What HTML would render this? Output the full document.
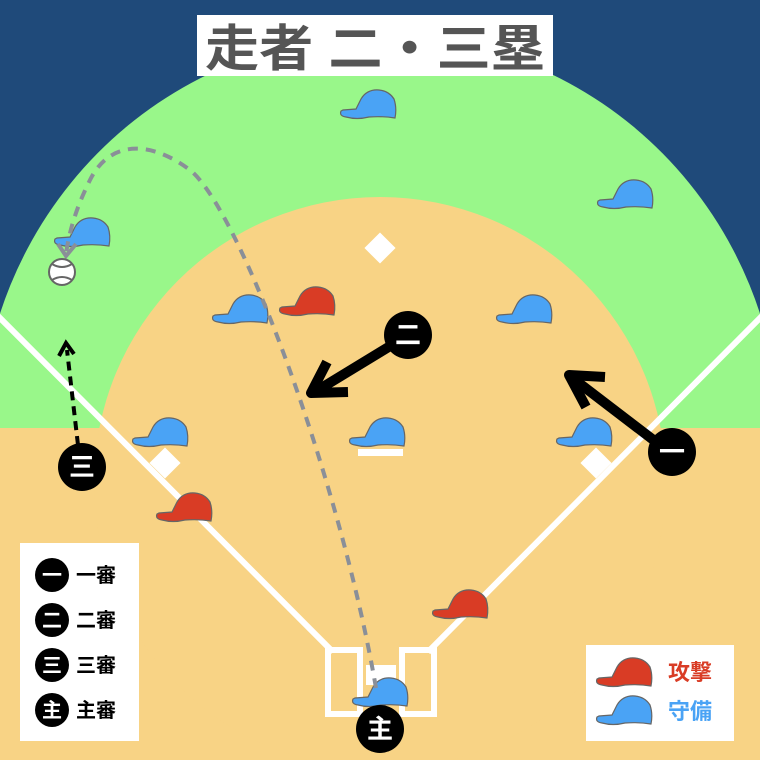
<!DOCTYPE html>
<html><head><meta charset="utf-8"><style>
html,body{margin:0;padding:0;background:#1f4a7a;width:760px;height:760px;overflow:hidden;}
svg{display:block;position:absolute;left:0;top:0}
text{font-family:"Liberation Sans","Noto Sans CJK JP",sans-serif;}
</style></head><body>
<svg width="760" height="760" viewBox="0 0 760 760" xmlns="http://www.w3.org/2000/svg">
<defs>
<symbol id="cap" viewBox="0 0 58 32" overflow="visible">
<path d="M2,22 Q0,27 7,28 Q18,31 30,28 Q44,27 56,29 Q58,19 55,10 Q50,2 40,1 Q28,0 22,10 Q19,16 17,20 L4,21 Z" stroke="#666" stroke-width="1.2"/>
</symbol>
<clipPath id="top"><rect x="0" y="0" width="760" height="428"/></clipPath>
</defs>
<rect width="760" height="760" fill="#1f4a7a"/>
<ellipse cx="380" cy="440" rx="400" ry="405" fill="#99f78a" clip-path="url(#top)"/>
<rect x="0" y="428" width="760" height="332" fill="#f8d385"/>
<circle cx="380" cy="483" r="286" fill="#f8d385"/>
<line x1="-5" y1="313" x2="333" y2="652" stroke="#fff" stroke-width="6"/>
<line x1="765" y1="313" x2="428" y2="652" stroke="#fff" stroke-width="6"/>
<rect x="328" y="650" width="32" height="64" fill="none" stroke="#fff" stroke-width="6"/>
<rect x="402" y="650" width="32" height="64" fill="none" stroke="#fff" stroke-width="6"/>
<rect x="366" y="665" width="30" height="20" fill="#fff"/>
<rect x="369" y="237" width="22" height="22" fill="#fff" transform="rotate(45 380 248)"/>
<rect x="154" y="452" width="22" height="22" fill="#fff" transform="rotate(45 165 463)"/>
<rect x="585" y="452" width="22" height="22" fill="#fff" transform="rotate(45 596 463)"/>
<rect x="358" y="449" width="45" height="7" fill="#fff"/>
<rect x="197" y="15" width="356" height="61" fill="#fff"/>
<text x="375" y="66" font-size="50" font-weight="bold" fill="#555" text-anchor="middle" textLength="340" lengthAdjust="spacingAndGlyphs">走者 二・三塁</text>
<g fill="#4aa3f5">
<use href="#cap" x="339" y="89" width="58" height="32"/>
<use href="#cap" x="596" y="179" width="58" height="32"/>
<use href="#cap" x="53" y="217" width="58" height="32"/>
<use href="#cap" x="211" y="294" width="58" height="32"/>
<use href="#cap" x="495" y="294" width="58" height="32"/>
<use href="#cap" x="131" y="417" width="58" height="32"/>
<use href="#cap" x="348" y="417" width="58" height="32"/>
<use href="#cap" x="555" y="417" width="58" height="32"/>
<use href="#cap" x="351" y="677" width="58" height="32"/>
</g>
<g fill="#d93c25">
<use href="#cap" x="278" y="286" width="58" height="32"/>
<use href="#cap" x="155" y="492" width="58" height="32"/>
<use href="#cap" x="431" y="589" width="58" height="32"/>
</g>
<path d="M376,688 C340,480 240,210 190,170 C150,140 110,140 90,180 C80,200 70,225 66,254" fill="none" stroke="#8a8f98" stroke-width="4" stroke-dasharray="10,8"/>
<path d="M58,244 L66,256 L76,244" fill="none" stroke="#8a8f98" stroke-width="4"/>
<circle cx="62" cy="272" r="13" fill="#fff" stroke="#666" stroke-width="2"/>
<path d="M52,264 Q62,270 72,264 M52,280 Q62,274 72,280" fill="none" stroke="#666" stroke-width="2"/>
<line x1="400" y1="340" x2="318" y2="390" stroke="#000" stroke-width="10"/>
<path d="M327,362 L311,393 L348,392" fill="none" stroke="#000" stroke-width="10" stroke-linejoin="round"/>
<line x1="660" y1="445" x2="575" y2="380" stroke="#000" stroke-width="10"/>
<path d="M605,377 L569,375 L586,407" fill="none" stroke="#000" stroke-width="10" stroke-linejoin="round"/>
<line x1="78" y1="445" x2="67" y2="350" stroke="#000" stroke-width="4" stroke-dasharray="9,6"/>
<path d="M59,356 L66,343 L74,354" fill="none" stroke="#000" stroke-width="4"/>
<g font-size="26" fill="#fff" text-anchor="middle" font-weight="bold">
<ellipse cx="408" cy="335" rx="24" ry="24" fill="#000"/><text x="408" y="344">二</text>
<ellipse cx="672" cy="452" rx="24" ry="24" fill="#000"/><text x="672" y="461">一</text>
<ellipse cx="82" cy="467" rx="24" ry="24" fill="#000"/><text x="82" y="476">三</text>
<ellipse cx="380" cy="729" rx="24" ry="24" fill="#000"/><text x="380" y="738">主</text>
</g>
<rect x="20" y="543" width="119" height="198" fill="#fff"/>
<g font-size="20" font-weight="bold">
<ellipse cx="52" cy="575" rx="17" ry="17"/><text x="52" y="582" fill="#fff" text-anchor="middle">一</text><text x="76" y="582" fill="#000">一審</text>
<ellipse cx="52" cy="620" rx="17" ry="17"/><text x="52" y="627" fill="#fff" text-anchor="middle">二</text><text x="76" y="627" fill="#000">二審</text>
<ellipse cx="52" cy="665" rx="17" ry="17"/><text x="52" y="672" fill="#fff" text-anchor="middle">三</text><text x="76" y="672" fill="#000">三審</text>
<ellipse cx="52" cy="710" rx="17" ry="17"/><text x="52" y="717" fill="#fff" text-anchor="middle">主</text><text x="76" y="717" fill="#000">主審</text>
</g>
<rect x="586" y="645" width="148" height="96" fill="#fff"/>
<use href="#cap" x="595" y="657" width="58" height="32" fill="#d93c25"/>
<use href="#cap" x="595" y="695" width="58" height="32" fill="#4aa3f5"/>
<text x="668" y="680" font-size="22" font-weight="bold" fill="#d93c25">攻撃</text>
<text x="668" y="719" font-size="22" font-weight="bold" fill="#4aa3f5">守備</text>
</svg>
</body></html>
